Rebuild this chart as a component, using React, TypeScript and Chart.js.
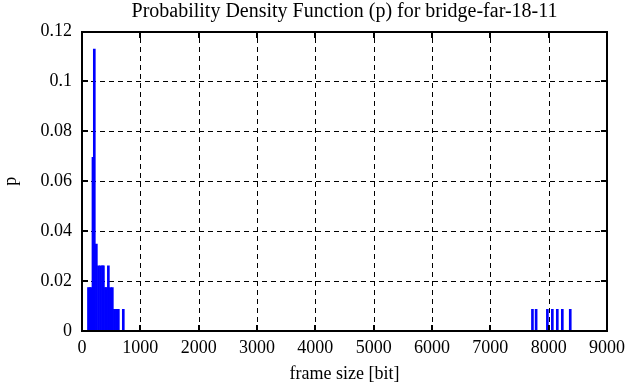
import React, { useEffect, useRef } from "react";
import { Chart, registerables } from "chart.js";

Chart.register(...registerables);

// frame sizes (bits) of each impulse and its probability
const frameSizes = [
  111, 136, 162, 188, 211, 246, 282, 316, 350, 367, 401, 418, 452, 486, 520,
  555, 589, 623, 708,
  7722, 7785, 7978, 8063, 8148, 8234, 8370,
];
const probabilities = [
  0.0174, 0.0174, 0.0174, 0.0696, 0.113, 0.0348, 0.0261, 0.0261, 0.0261, 0.0261,
  0.0174, 0.0174, 0.0261, 0.0174, 0.0174,
  0.0087, 0.0087, 0.0087, 0.0087,
  0.0087, 0.0087, 0.0087, 0.0087, 0.0087, 0.0087, 0.0087,
];

const xTickValues = [0, 1000, 2000, 3000, 4000, 5000, 6000, 7000, 8000, 9000];
const xTickLabels = ["0", "1000", "2000", "3000", "4000", "5000", "6000", "7000", "8000", "9000"];
const yTickValues = [0, 0.02, 0.04, 0.06, 0.08, 0.1, 0.12];
const yTickLabels = ["0", "0.02", "0.04", "0.06", "0.08", "0.1", "0.12"];

const titleText = "Probability Density Function (p) for bridge-far-18-11";
const xTitle = "frame size [bit]";
const yTitle = "p";

const FONT = "'Liberation Serif', 'Times New Roman', serif";

const framePlugin = {
  id: "gnuplotFrame",
  beforeDatasetsDraw(chart: any) {
    const { ctx, chartArea: a, scales } = chart;
    const x = scales.x;
    const y = scales.y;
    ctx.save();
    ctx.strokeStyle = "#000";
    ctx.lineWidth = 1;
    ctx.setLineDash([5, 4]);
    x.ticks.forEach((t: any) => {
      const px = Math.round(x.getPixelForValue(t.value)) + 0.5;
      if (px <= a.left + 2 || px >= a.right - 2) return;
      ctx.beginPath();
      ctx.moveTo(px, a.bottom);
      ctx.lineTo(px, a.top);
      ctx.stroke();
    });
    y.ticks.forEach((t: any) => {
      const py = Math.round(y.getPixelForValue(t.value)) + 0.5;
      if (py <= a.top + 2 || py >= a.bottom - 2) return;
      ctx.beginPath();
      ctx.moveTo(a.left, py);
      ctx.lineTo(a.right, py);
      ctx.stroke();
    });
    ctx.restore();
  },
  afterDatasetsDraw(chart: any) {
    const { ctx, chartArea: a, scales } = chart;
    const x = scales.x;
    const y = scales.y;
    const L = Math.round(a.left);
    const R = Math.round(a.right);
    const T = Math.round(a.top);
    const B = Math.round(a.bottom);
    ctx.save();
    ctx.strokeStyle = "#000";
    ctx.lineWidth = 2;
    ctx.setLineDash([]);
    ctx.strokeRect(L, T, R - L, B - T);
    const tl = 6;
    x.ticks.forEach((t: any) => {
      const px = Math.round(x.getPixelForValue(t.value));
      ctx.beginPath();
      ctx.moveTo(px, B);
      ctx.lineTo(px, B - tl);
      ctx.moveTo(px, T);
      ctx.lineTo(px, T + tl);
      ctx.stroke();
    });
    y.ticks.forEach((t: any) => {
      const py = Math.round(y.getPixelForValue(t.value));
      ctx.beginPath();
      ctx.moveTo(L, py);
      ctx.lineTo(L + tl, py);
      ctx.moveTo(R, py);
      ctx.lineTo(R - tl, py);
      ctx.stroke();
    });
    ctx.restore();
  },
};

export default function App() {
  const ref = useRef<HTMLCanvasElement>(null);
  useEffect(() => {
    document.body.style.margin = "0";
    const canvas = ref.current;
    if (!canvas) return;
    const chart = new Chart(canvas, {
      type: "bar",
      data: {
        datasets: [
          {
            data: frameSizes.map((f, i) => ({ x: f, y: probabilities[i] })),
            backgroundColor: "#0000ff",
            borderWidth: 0,
            barThickness: 2,
            grouped: false,
          } as any,
        ],
      },
      options: {
        animation: false,
        responsive: false,
        devicePixelRatio: 1,
        layout: { padding: { left: 0, right: 22, top: 0, bottom: 0 } },
        plugins: {
          legend: { display: false },
          tooltip: { enabled: false },
          title: {
            display: true,
            text: titleText,
            color: "#000",
            fullSize: false,
            font: { family: FONT, size: 20, weight: "normal" },
            padding: { top: 0, bottom: 7.6 },
          },
        },
        scales: {
          x: {
            type: "linear",
            min: 0,
            max: 9000,
            offset: false,
            grid: { display: false, drawTicks: false, offset: false },
            border: { display: false },
            afterBuildTicks: (s: any) => {
              s.ticks = xTickValues.map((v) => ({ value: v }));
            },
            afterFit: (s: any) => {
              s.height = 56;
            },
            ticks: {
              color: "#000",
              font: { family: FONT, size: 18 },
              padding: 6,
              maxRotation: 0,
              autoSkip: false,
              callback: (_v: any, i: number) => xTickLabels[i],
            },
            title: {
              display: true,
              text: xTitle,
              color: "#000",
              font: { family: FONT, size: 18 },
              padding: { top: 0, bottom: 2 },
            },
          },
          y: {
            type: "linear",
            min: 0,
            max: 0.12,
            grid: { display: false, drawTicks: false },
            border: { display: false },
            afterBuildTicks: (s: any) => {
              s.ticks = yTickValues.map((v) => ({ value: v }));
            },
            afterFit: (s: any) => {
              s.width = 82;
            },
            ticks: {
              color: "#000",
              font: { family: FONT, size: 18 },
              padding: 10,
              autoSkip: false,
              callback: (_v: any, i: number) => yTickLabels[i],
            },
            title: {
              display: true,
              text: yTitle,
              color: "#000",
              font: { family: FONT, size: 18 },
              padding: { top: 0, bottom: 0 },
            },
          },
        },
      } as any,
      plugins: [framePlugin],
    });
    return () => chart.destroy();
  }, []);
  return (
    <div style={{ width: 631, height: 387, background: "#fff" }}>
      <canvas ref={ref} width={631} height={387} style={{ display: "block" }} />
    </div>
  );
}
